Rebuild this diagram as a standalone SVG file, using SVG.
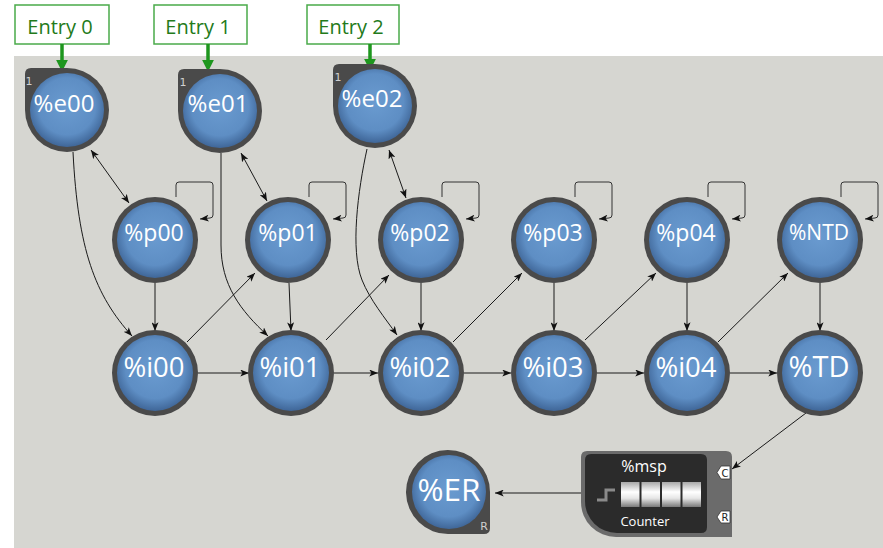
<svg xmlns="http://www.w3.org/2000/svg" width="883" height="548" viewBox="0 0 883 548">
<defs>
<style>
.lbl{font-family:"Open Sans","DejaVu Sans",sans-serif;fill:#ffffff;text-anchor:middle}
.ring{fill:#4a4a4a}
.blue{fill:url(#bg)}
.edge{fill:none;stroke:#1a1a1a;stroke-width:1}
.loop{fill:none;stroke:#333;stroke-width:1}
.entry rect{fill:#ffffff;stroke:#4aaa4a;stroke-width:1.5}
.entry text{font-family:"Open Sans","DejaVu Sans",sans-serif;font-size:20px;fill:#237a1a;text-anchor:middle}
.garrow{stroke:#1e961e;stroke-width:3.5;fill:none}
.tag{fill:#ffffff;stroke:#333;stroke-width:0.8}
.tagt{font-family:"DejaVu Sans",sans-serif;font-size:10px;fill:#222;text-anchor:middle}
</style>
<radialGradient id="bg" cx="50%" cy="45%" r="55%">
<stop offset="0%" stop-color="#6a9bd0"/>
<stop offset="70%" stop-color="#5e8ec4"/>
<stop offset="100%" stop-color="#3f6698"/>
</radialGradient>
<linearGradient id="cell" x1="0" y1="0" x2="0" y2="1">
<stop offset="0%" stop-color="#a8a8a8"/>
<stop offset="40%" stop-color="#ffffff"/>
<stop offset="65%" stop-color="#e6e6e6"/>
<stop offset="100%" stop-color="#7a7a7a"/>
</linearGradient>
<marker id="ah" viewBox="0 0 10 8" markerUnits="userSpaceOnUse" markerWidth="9" markerHeight="7" refX="10" refY="4" orient="auto-start-reverse">
<path d="M0,0 L10,4 L0,8 L2.5,4 Z" fill="#111"/>
</marker>
<marker id="gah" viewBox="0 0 10 10" markerUnits="userSpaceOnUse" markerWidth="12" markerHeight="12" refX="1" refY="5" orient="auto">
<path d="M0,0 L10,5 L0,10 Z" fill="#1e961e"/>
</marker>
</defs>

<rect x="14" y="56" width="869" height="492" fill="#d6d6d1"/>

<g id="entries">
<g id="entry0" class="entry"><rect x="15" y="5" width="94" height="39"/><text x="60" y="34">Entry 0</text></g>
<g id="entry1" class="entry"><rect x="154" y="5" width="93" height="39"/><text x="198" y="34">Entry 1</text></g>
<g id="entry2" class="entry"><rect x="307" y="5" width="92" height="39"/><text x="351" y="34">Entry 2</text></g>
</g>

<g id="connectors">
<!-- entry arrows -->
<line class="garrow" x1="62" y1="44" x2="62" y2="61" marker-end="url(#gah)"/>
<line class="garrow" x1="208" y1="44" x2="208" y2="61" marker-end="url(#gah)"/>
<line class="garrow" x1="370" y1="44" x2="370" y2="60" marker-end="url(#gah)"/>
<!-- e to i curves -->
<path class="edge" d="M73,152 C78,250 95,295 132,336" marker-end="url(#ah)"/>
<path class="edge" d="M221,153 L221,245 C221,285 240,310 268,336" marker-end="url(#ah)"/>
<path class="edge" d="M367,149 C358,190 350,250 362,280 C370,300 385,318 397,335" marker-end="url(#ah)"/>
<!-- e <-> p -->
<line class="edge" x1="91" y1="150" x2="129" y2="203" marker-start="url(#ah)" marker-end="url(#ah)"/>
<line class="edge" x1="241" y1="153" x2="267" y2="201" marker-start="url(#ah)" marker-end="url(#ah)"/>
<line class="edge" x1="389" y1="150" x2="406" y2="198" marker-start="url(#ah)" marker-end="url(#ah)"/>
<!-- self loops -->
<path class="loop" d="M176,197 V185 Q176,182 179,182 H210 Q213,182 213,185 V215 Q213,218 210,218 L200,219" marker-end="url(#ah)"/>
<path class="loop" d="M309,197 V185 Q309,182 312,182 H343 Q346,182 346,185 V215 Q346,218 343,218 L333,219" marker-end="url(#ah)"/>
<path class="loop" d="M442,197 V185 Q442,182 445,182 H476 Q479,182 479,185 V215 Q479,218 476,218 L466,219" marker-end="url(#ah)"/>
<path class="loop" d="M575,197 V185 Q575,182 578,182 H609 Q612,182 612,185 V215 Q612,218 609,218 L599,219" marker-end="url(#ah)"/>
<path class="loop" d="M708,197 V185 Q708,182 711,182 H742 Q745,182 745,185 V215 Q745,218 742,218 L732,219" marker-end="url(#ah)"/>
<path class="loop" d="M841,197 V185 Q841,182 844,182 H875 Q878,182 878,185 V215 Q878,218 875,218 L865,219" marker-end="url(#ah)"/>
<!-- p to i -->
<line class="edge" x1="155" y1="283" x2="155" y2="331" marker-end="url(#ah)"/>
<line class="edge" x1="289" y1="283" x2="291" y2="331" marker-end="url(#ah)"/>
<line class="edge" x1="421" y1="283" x2="421" y2="331" marker-end="url(#ah)"/>
<line class="edge" x1="554" y1="283" x2="554" y2="331" marker-end="url(#ah)"/>
<line class="edge" x1="687" y1="283" x2="687" y2="331" marker-end="url(#ah)"/>
<line class="edge" x1="820" y1="283" x2="820" y2="331" marker-end="url(#ah)"/>
<!-- i to next p -->
<line class="edge" x1="187" y1="342" x2="255" y2="273" marker-end="url(#ah)"/>
<line class="edge" x1="326" y1="340" x2="389" y2="275" marker-end="url(#ah)"/>
<line class="edge" x1="453" y1="342" x2="522" y2="273" marker-end="url(#ah)"/>
<line class="edge" x1="585" y1="340" x2="656" y2="273" marker-end="url(#ah)"/>
<line class="edge" x1="718" y1="342" x2="788" y2="273" marker-end="url(#ah)"/>
<!-- i row horizontals -->
<line class="edge" x1="198" y1="373" x2="249" y2="373" marker-end="url(#ah)"/>
<line class="edge" x1="334" y1="373" x2="378" y2="373" marker-end="url(#ah)"/>
<line class="edge" x1="464" y1="373" x2="511" y2="373" marker-end="url(#ah)"/>
<line class="edge" x1="597" y1="373" x2="644" y2="373" marker-end="url(#ah)"/>
<line class="edge" x1="730" y1="373" x2="777" y2="373" marker-end="url(#ah)"/>
<!-- TD to counter C, counter to ER -->
<line class="edge" x1="806" y1="413" x2="732" y2="469" marker-end="url(#ah)"/>
<line class="edge" x1="581" y1="493" x2="495" y2="493" stroke="#444" marker-end="url(#ah)"/>
</g>

<g id="e00">
<path class="ring" d="M25,110 V74 Q25,68 31,68 H67 A42,42 0 1 1 25,110 Z"/>
<circle class="blue" cx="67" cy="110" r="37"/>
<text x="29" y="85" font-family="DejaVu Sans,sans-serif" font-size="11" fill="#d0d0d0" text-anchor="middle">1</text>
<text class="lbl" x="64" y="112" font-size="24">%e00</text>
</g>
<g id="e01">
<path class="ring" d="M178,111 V75 Q178,69 184,69 H220 A42,42 0 1 1 178,111 Z"/>
<circle class="blue" cx="220" cy="111" r="37"/>
<text x="183" y="86" font-family="DejaVu Sans,sans-serif" font-size="11" fill="#d0d0d0" text-anchor="middle">1</text>
<text class="lbl" x="218" y="112" font-size="24">%e01</text>
</g>
<g id="e02">
<path class="ring" d="M333,106 V70 Q333,64 339,64 H375 A42,42 0 1 1 333,106 Z"/>
<circle class="blue" cx="375" cy="106" r="37"/>
<text x="338" y="81" font-family="DejaVu Sans,sans-serif" font-size="11" fill="#d0d0d0" text-anchor="middle">1</text>
<text class="lbl" x="372" y="107" font-size="24">%e02</text>
</g>

<g id="p00"><circle class="ring" cx="155" cy="240" r="43"/><circle class="blue" cx="155" cy="240" r="38"/><text class="lbl" x="154" y="241" font-size="23">%p00</text></g>
<g id="p01"><circle class="ring" cx="288" cy="240" r="43"/><circle class="blue" cx="288" cy="240" r="38"/><text class="lbl" x="288" y="241" font-size="23">%p01</text></g>
<g id="p02"><circle class="ring" cx="421" cy="240" r="43"/><circle class="blue" cx="421" cy="240" r="38"/><text class="lbl" x="420" y="241" font-size="23">%p02</text></g>
<g id="p03"><circle class="ring" cx="554" cy="240" r="43"/><circle class="blue" cx="554" cy="240" r="38"/><text class="lbl" x="553" y="241" font-size="23">%p03</text></g>
<g id="p04"><circle class="ring" cx="687" cy="240" r="43"/><circle class="blue" cx="687" cy="240" r="38"/><text class="lbl" x="686" y="241" font-size="23">%p04</text></g>
<g id="NTD"><circle class="ring" cx="820" cy="240" r="43"/><circle class="blue" cx="820" cy="240" r="38"/><text class="lbl" x="819" y="240" font-size="21">%NTD</text></g>

<g id="i00"><circle class="ring" cx="155" cy="373" r="43"/><circle class="blue" cx="155" cy="373" r="38"/><text class="lbl" x="154" y="377" font-size="27.5">%i00</text></g>
<g id="i01"><circle class="ring" cx="291" cy="373" r="43"/><circle class="blue" cx="291" cy="373" r="38"/><text class="lbl" x="290" y="377" font-size="27.5">%i01</text></g>
<g id="i02"><circle class="ring" cx="421" cy="373" r="43"/><circle class="blue" cx="421" cy="373" r="38"/><text class="lbl" x="420" y="377" font-size="27.5">%i02</text></g>
<g id="i03"><circle class="ring" cx="554" cy="373" r="43"/><circle class="blue" cx="554" cy="373" r="38"/><text class="lbl" x="553" y="377" font-size="27.5">%i03</text></g>
<g id="i04"><circle class="ring" cx="687" cy="373" r="43"/><circle class="blue" cx="687" cy="373" r="38"/><text class="lbl" x="686" y="377" font-size="27.5">%i04</text></g>
<g id="TD"><circle class="ring" cx="820" cy="373" r="43"/><circle class="blue" cx="820" cy="373" r="38"/><text class="lbl" x="819" y="377" font-size="29">%TD</text></g>

<g id="ER">
<path class="ring" d="M490,492 V528 Q490,534 484,534 H449 A42,42 0 1 1 490,492 Z"/>
<circle class="blue" cx="449" cy="492" r="37"/>
<text x="484" y="530" font-family="DejaVu Sans,sans-serif" font-size="11" fill="#d0d0d0" text-anchor="middle">R</text>
<text class="lbl" x="449" y="501" font-size="31.5">%ER</text>
</g>

<g id="msp">
<path d="M587,451 H726 Q732,451 732,457 V537 H616 A35,35 0 0 1 581,502 V457 Q581,451 587,451 Z" fill="#6b6b6b"/>
<path d="M591,454 H701 Q707,454 707,460 V527 Q707,533 701,533 H617 A32,32 0 0 1 585,501 V460 Q585,454 591,454 Z" fill="#2b2b2b"/>
<text x="644" y="472" font-family="Open Sans,DejaVu Sans,sans-serif" font-size="16" fill="#ffffff" text-anchor="middle">%msp</text>
<rect x="621" y="482" width="18.5" height="25" fill="url(#cell)"/>
<rect x="641.5" y="482" width="18.5" height="25" fill="url(#cell)"/>
<rect x="662" y="482" width="18.5" height="25" fill="url(#cell)"/>
<rect x="682.5" y="482" width="18.5" height="25" fill="url(#cell)"/>
<path d="M597,500 H606 V490 H615" fill="none" stroke="#8a8a8a" stroke-width="3"/>
<text x="645" y="526" font-family="Open Sans,DejaVu Sans,sans-serif" font-size="13" fill="#ffffff" text-anchor="middle">Counter</text>
<path class="tag" d="M717,472.5 L721,466 H730 V479 H721 Z"/>
<text class="tagt" x="725" y="476.5">C</text>
<path class="tag" d="M717,517 L721,511 H730 V523 H721 Z"/>
<text class="tagt" x="725" y="521">R</text>
</g>
</svg>
